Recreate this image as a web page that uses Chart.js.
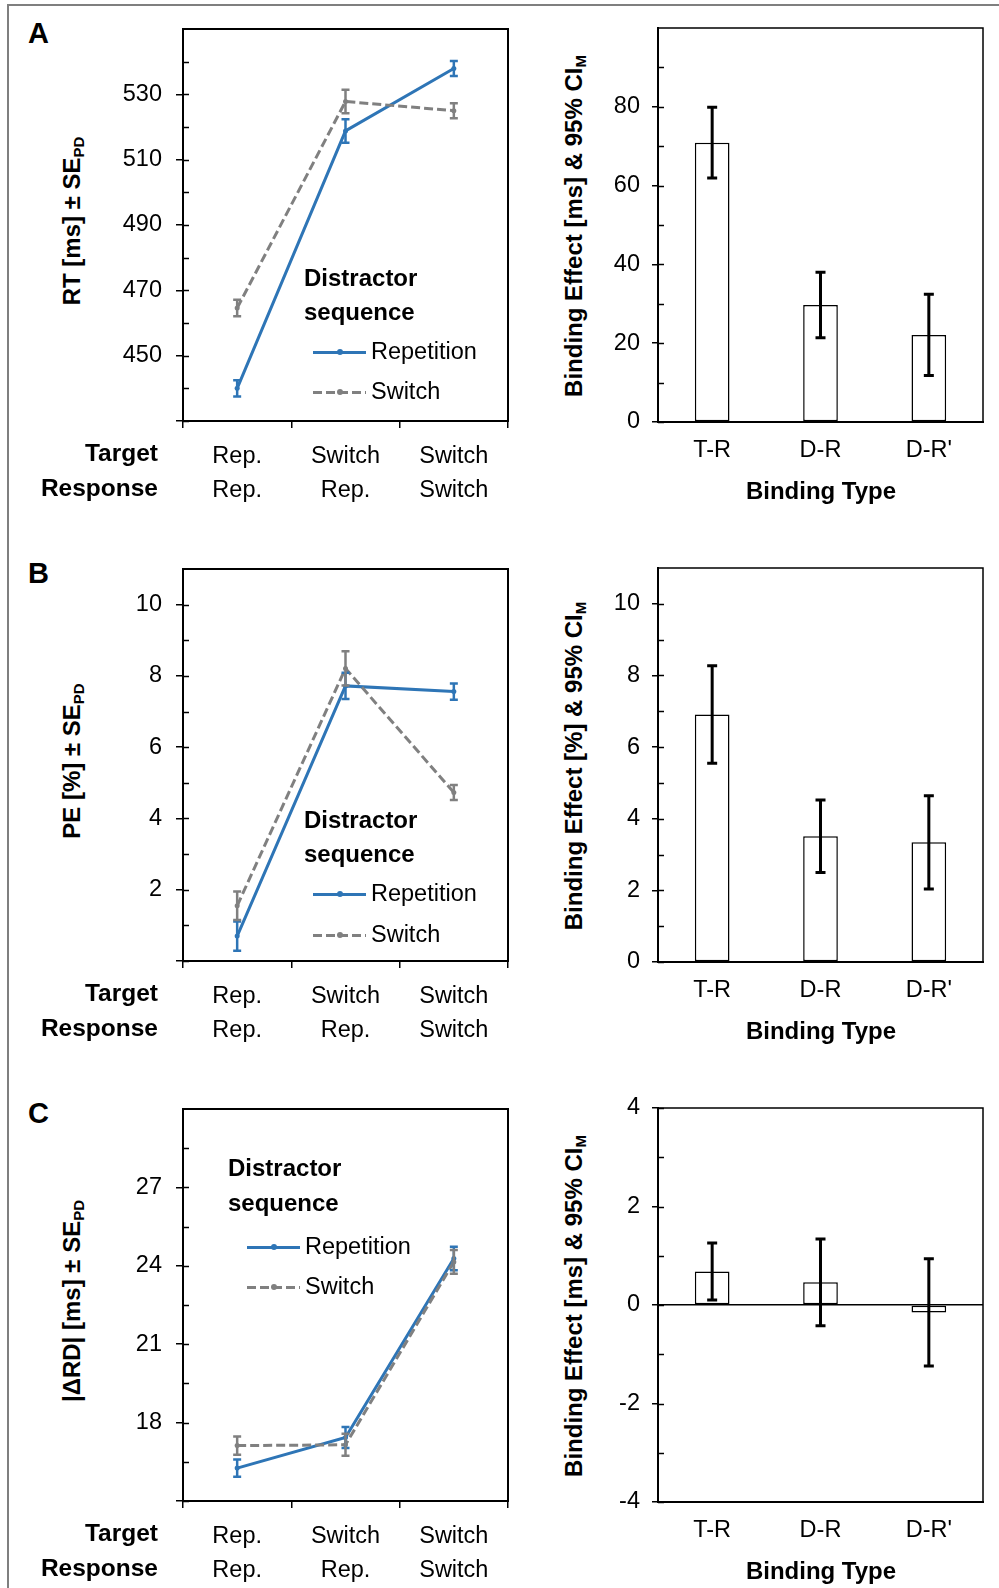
<!DOCTYPE html>
<html>
<head>
<meta charset="utf-8">
<script src="https://cdn.jsdelivr.net/npm/chart.js@4.4.1/dist/chart.umd.min.js"></script>
<style>
html, body { margin: 0; padding: 0; background: #fff; overflow: hidden; }
body { width: 999px; height: 1588px; position: relative; font-family: "Liberation Sans", Arial, sans-serif; color: #000; }
.outer { position: absolute; left: 7px; top: 4px; right: 0; bottom: -10px; border-top: 2px solid #7f7f7f; border-left: 2px solid #7f7f7f; }
canvas { position: absolute; }
.t { position: absolute; white-space: nowrap; font-size: 23.5px; line-height: 1; }
.b { font-weight: bold; font-size: 24px; }
.rowlab { font-weight: bold; font-size: 24.5px; }
.letter { font-weight: bold; font-size: 29px; }
.ytitle { font-weight: bold; font-size: 24px; }
.ytitle sub { font-size: 15px; vertical-align: -4px; }
.sw { position: absolute; height: 3px; }
.dot { position: absolute; width: 6px; height: 6px; border-radius: 50%; }
</style>
</head>
<body>
<div class="outer"></div>
<canvas id="lineA" width="420" height="510" style="left:100px;top:0px"></canvas>
<canvas id="barA" width="409" height="510" style="left:590px;top:0px"></canvas>
<canvas id="lineB" width="420" height="510" style="left:100px;top:540px"></canvas>
<canvas id="barB" width="409" height="510" style="left:590px;top:540px"></canvas>
<canvas id="lineC" width="420" height="510" style="left:100px;top:1080px"></canvas>
<canvas id="barC" width="409" height="510" style="left:590px;top:1080px"></canvas>
<script>
// categories
const conditions = [['Rep.', 'Rep.'], ['Switch', 'Rep.'], ['Switch', 'Switch']]
const bindingTypes = ['T-R', 'D-R', "D-R'"]
const seqNames = ['Repetition', 'Switch']

// A - reaction times
const rtRep = [440.0, 518.8, 537.9]
const rtRepSE = [2.5, 3.6, 2.3]
const rtSwi = [464.6, 527.8, 525.0]
const rtSwiSE = [2.5, 3.6, 2.3]
const rtRange = [430, 550]
const rtTicks = [430, 450, 470, 490, 510, 530]
const rtMinor = [440, 460, 480, 500, 520, 540]
const rtShown = [450, 470, 490, 510, 530]

const rtBind = [70.9, 29.7, 22.1]
const rtBindCI = [9.0, 8.3, 10.3]
const rtBindRange = [0, 100]
const rtBindTicks = [0, 20, 40, 60, 80]
const rtBindMinor = [10, 30, 50, 70, 90]
const rtBindShown = [0, 20, 40, 60, 80]

// B - error rates
const peRep = [0.70, 7.72, 7.56]
const peRepSE = [0.41, 0.37, 0.23]
const peSwi = [1.55, 8.21, 4.73]
const peSwiSE = [0.40, 0.48, 0.21]
const peRange = [0, 11]
const peTicks = [0, 2, 4, 6, 8, 10]
const peMinor = [1, 3, 5, 7, 9]
const peShown = [2, 4, 6, 8, 10]

const peBind = [6.91, 3.51, 3.34]
const peBindCI = [1.36, 1.01, 1.30]
const peBindRange = [0, 11]
const peBindTicks = [0, 2, 4, 6, 8, 10]
const peBindMinor = [1, 3, 5, 7, 9]
const peBindShown = [0, 2, 4, 6, 8, 10]

// C - |ΔRD|
const rdRep = [16.26, 17.43, 24.28]
const rdRepSE = [0.33, 0.40, 0.45]
const rdSwi = [17.12, 17.15, 24.15]
const rdSwiSE = [0.35, 0.42, 0.45]
const rdRange = [15, 30]
const rdTicks = [15, 18, 21, 24, 27]
const rdMinor = [16.5, 19.5, 22.5, 25.5, 28.5]
const rdShown = [18, 21, 24, 27]

const rdBind = [0.68, 0.46, -0.15]
const rdBindCI = [0.58, 0.88, 1.09]
const rdBindRange = [-4, 4]
const rdBindTicks = [-4, -2, 0, 2, 4]
const rdBindMinor = [-3, -1, 1, 3]
const rdBindShown = [-4, -2, 0, 2, 4]

const blue = '#2E75B6'
const gray = '#808080'
const font = { family: '"Liberation Sans", Arial, sans-serif', size: 23.5 }

// box round the plot area
const frame = {
    id: 'frame',
    afterDraw(chart, args, opts) {
        const { ctx, chartArea: a } = chart
        ctx.save()
        ctx.strokeStyle = '#000'
        ctx.lineWidth = opts.width
        ctx.strokeRect(a.left, a.top, a.right - a.left, a.bottom - a.top)
        ctx.restore()
    }
}

// small ticks pointing into the plot
const innerTicks = {
    id: 'innerTicks',
    afterDraw(chart, args, opts) {
        const { ctx, chartArea: a, scales } = chart
        ctx.save()
        ctx.strokeStyle = '#000'
        ctx.lineWidth = 1.5
        opts.values.forEach(v => {
            const y = Math.round(scales.y.getPixelForValue(v)) + 0.5
            ctx.beginPath()
            ctx.moveTo(a.left, y)
            ctx.lineTo(a.left + 6, y)
            ctx.stroke()
        })
        ctx.restore()
    }
}

// error bars from dataset.errors
const errorBars = {
    id: 'errorBars',
    afterDatasetsDraw(chart, args, opts) {
        const { ctx, scales } = chart
        chart.data.datasets.forEach((ds, i) => {
            if (!ds.errors) return
            const meta = chart.getDatasetMeta(i)
            ctx.save()
            ctx.strokeStyle = ds.errColor || ds.borderColor
            ctx.lineWidth = opts.width
            meta.data.forEach((el, j) => {
                const x = el.x
                const y1 = scales.y.getPixelForValue(ds.data[j] + ds.errors[j])
                const y2 = scales.y.getPixelForValue(ds.data[j] - ds.errors[j])
                ctx.beginPath()
                ctx.moveTo(x, y1); ctx.lineTo(x, y2)
                ctx.moveTo(x - opts.cap, y1); ctx.lineTo(x + opts.cap, y1)
                ctx.moveTo(x - opts.cap, y2); ctx.lineTo(x + opts.cap, y2)
                ctx.stroke()
            })
            ctx.restore()
        })
    }
}

function yScale(range, ticks, shown, width, pad, tickLen) {
    return {
        min: range[0],
        max: range[1],
        afterBuildTicks: s => { s.ticks = ticks.map(v => ({ value: v })) },
        afterFit: s => { s.width = width },
        ticks: { font, color: '#000', padding: pad, callback: v => shown.includes(v) ? String(v) : '' },
        grid: { drawOnChartArea: false, tickLength: tickLen, color: '#000', lineWidth: 1.5 },
        border: { color: '#000', width: 2 }
    }
}

function lineChart(id, rep, repSE, swi, swiSE, range, ticks, minor, shown) {
    new Chart(document.getElementById(id), {
        type: 'line',
        data: {
            labels: conditions,
            datasets: [
                { label: seqNames[0], data: rep, errors: repSE, borderColor: blue, backgroundColor: blue,
                  borderWidth: 3, pointRadius: 2.5, pointBorderWidth: 0, order: 2 },
                { label: seqNames[1], data: swi, errors: swiSE, borderColor: gray, backgroundColor: gray,
                  borderWidth: 3, borderDash: [9, 4], pointRadius: 2.5, pointBorderWidth: 0, order: 1 }
            ]
        },
        options: {
            responsive: false,
            animation: false,
            devicePixelRatio: 1,
            layout: { padding: { top: 29, right: 12, left: 0, bottom: 0 } },
            plugins: {
                legend: { display: false },
                tooltip: { enabled: false },
                frame: { width: 2 },
                innerTicks: { values: ticks.concat(minor) },
                errorBars: { width: 2.5, cap: 4 }
            },
            scales: {
                x: {
                    offset: true,
                    afterFit: s => { s.height = 89 },
                    grid: { offset: true, drawOnChartArea: false, tickLength: 7, color: '#000', lineWidth: 1.5 },
                    border: { color: '#000', width: 2 },
                    ticks: { font: { ...font, lineHeight: 1.447 }, color: '#000', padding: 11.5, maxRotation: 0, autoSkip: false }
                },
                y: yScale(range, ticks, shown, 83, 14, 7)
            }
        },
        plugins: [frame, innerTicks, errorBars]
    })
}

function barChart(id, vals, ci, range, ticks, minor, shown, zeroLine) {
    const y = yScale(range, ticks, shown, 68, 12, 6)
    if (zeroLine) {
        y.grid = {
            drawOnChartArea: true, tickLength: 6, lineWidth: 1.5, tickColor: '#000',
            color: c => (c.tick && c.tick.value === 0) ? '#000' : 'rgba(0,0,0,0)'
        }
    }
    new Chart(document.getElementById(id), {
        type: 'bar',
        data: {
            labels: bindingTypes,
            datasets: [{
                data: vals, errors: ci, errColor: '#000',
                backgroundColor: '#fff', borderColor: '#000', borderWidth: 1.5, borderSkipped: false,
                barPercentage: 0.32, categoryPercentage: 1
            }]
        },
        options: {
            responsive: false,
            animation: false,
            devicePixelRatio: 1,
            layout: { padding: { top: 28, right: 16, left: 0, bottom: 0 } },
            plugins: {
                legend: { display: false },
                tooltip: { enabled: false },
                frame: { width: 1.5 },
                innerTicks: { values: ticks.concat(minor) },
                errorBars: { width: 3, cap: 5 }
            },
            scales: {
                x: {
                    afterFit: s => { s.height = 88 },
                    grid: { display: false, drawTicks: false },
                    border: { color: '#000', width: 2 },
                    ticks: { font: { ...font, lineHeight: 1.2 }, color: '#000', padding: 14, maxRotation: 0 }
                },
                y
            }
        },
        plugins: [frame, innerTicks, errorBars]
    })
}

lineChart('lineA', rtRep, rtRepSE, rtSwi, rtSwiSE, rtRange, rtTicks, rtMinor, rtShown)
barChart('barA', rtBind, rtBindCI, rtBindRange, rtBindTicks, rtBindMinor, rtBindShown, false)
lineChart('lineB', peRep, peRepSE, peSwi, peSwiSE, peRange, peTicks, peMinor, peShown)
barChart('barB', peBind, peBindCI, peBindRange, peBindTicks, peBindMinor, peBindShown, false)
lineChart('lineC', rdRep, rdRepSE, rdSwi, rdSwiSE, rdRange, rdTicks, rdMinor, rdShown)
barChart('barC', rdBind, rdBindCI, rdBindRange, rdBindTicks, rdBindMinor, rdBindShown, true)

// text around the charts
function put(html, x, y, cls, align) {
    const d = document.createElement('div')
    d.className = 't ' + cls
    d.innerHTML = html
    d.style.left = x + 'px'
    d.style.top = y + 'px'
    if (align === 'rot') d.style.transform = 'translate(-50%,-50%) rotate(-90deg)'
    else if (align === 'right') d.style.transform = 'translate(-100%,-50%)'
    else if (align === 'center') d.style.transform = 'translate(-50%,-50%)'
    else d.style.transform = 'translate(0,-50%)'
    document.body.appendChild(d)
}

function swatch(x, y, w, color, dashed) {
    const s = document.createElement('div')
    s.className = 'sw'
    s.style.left = x + 'px'
    s.style.top = (y - 1.5) + 'px'
    s.style.width = w + 'px'
    s.style.background = dashed
        ? `repeating-linear-gradient(to right, ${color} 0 9px, transparent 9px 13px)`
        : color
    document.body.appendChild(s)
    const d = document.createElement('div')
    d.className = 'dot'
    d.style.left = (x + w / 2 - 3) + 'px'
    d.style.top = (y - 3) + 'px'
    d.style.background = color
    document.body.appendChild(d)
}

const panels = [
    { o: 0, letter: 'A', left: 'RT [ms] ± SE<sub>PD</sub>', right: 'Binding Effect [ms] &amp; 95% CI<sub>M</sub>',
      leg: { x: 304, y: [278, 312, 352, 392], sx: 313, sw: 53, tx: 371 } },
    { o: 540, letter: 'B', left: 'PE [%] ± SE<sub>PD</sub>', right: 'Binding Effect [%] &amp; 95% CI<sub>M</sub>',
      leg: { x: 304, y: [280, 314, 354, 395], sx: 313, sw: 53, tx: 371 } },
    { o: 1080, letter: 'C', left: '|ΔRD| [ms] ± SE<sub>PD</sub>', right: 'Binding Effect [ms] &amp; 95% CI<sub>M</sub>',
      leg: { x: 228, y: [88, 123, 167, 207], sx: 247, sw: 53, tx: 305 } }
]

panels.forEach(p => {
    const o = p.o
    put(p.letter, 28, o + 32.5, 'letter', 'left')
    put(p.left, 73, o + 221, 'ytitle', 'rot')
    put(p.right, 575, o + 226, 'ytitle', 'rot')
    put('Target', 158, o + 453, 'rowlab', 'right')
    put('Response', 158, o + 488, 'rowlab', 'right')
    put('Binding Type', 821, o + 491, 'b', 'center')
    const L = p.leg
    put('Distractor', L.x, o + L.y[0], 'b', 'left')
    put('sequence', L.x, o + L.y[1], 'b', 'left')
    swatch(L.sx, o + L.y[2], L.sw, blue, false)
    put(seqNames[0], L.tx, o + L.y[2], '', 'left')
    swatch(L.sx, o + L.y[3], L.sw, gray, true)
    put(seqNames[1], L.tx, o + L.y[3], '', 'left')
})
</script>
</body>
</html>
